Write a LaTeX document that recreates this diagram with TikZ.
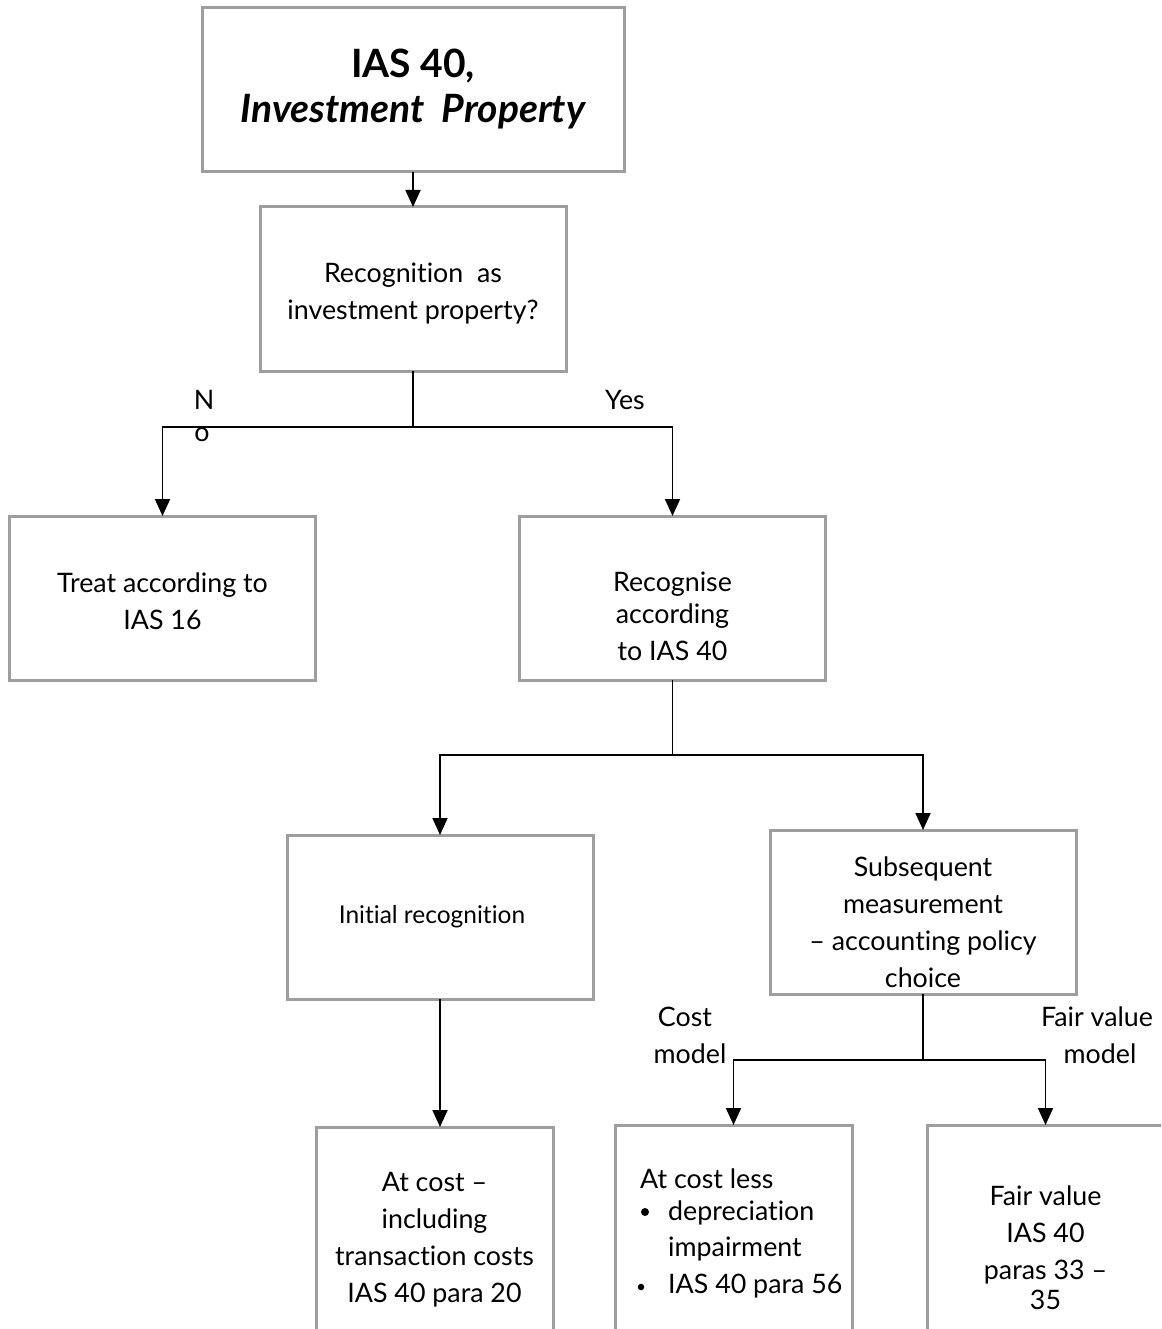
\documentclass[tikz,border=0pt]{standalone}
\usepackage{fontspec}
\setmainfont{Lato}[Ligatures={NoCommon,NoRare}]
\usetikzlibrary{arrows.meta}
\definecolor{boxgray}{RGB}{158,158,158}
\begin{document}
\begin{tikzpicture}[x=1pt,y=-1pt,
  box/.style={draw=boxgray,line width=3pt,inner sep=0pt,outer sep=0pt,
    minimum width=306pt,minimum height=164pt},
  txt/.style={align=center,inner sep=0pt,font=\fontsize{26.8pt}{37pt}\selectfont},
  lbl/.style={inner sep=0pt,font=\fontsize{26.8pt}{37pt}\selectfont},
  link/.style={line width=1.8pt,black},
  arr/.style={link,-{Triangle[width=15pt,length=17pt]}}]
\useasboundingbox (0,0) rectangle (1161,1329);
\fill[white] (0,0) rectangle (1161,1329);
\clip (0,0) rectangle (1161,1329);

% boxes
\node[box,minimum width=422pt] (ias) at (413,90) {};
\node[box] (recq) at (413,289) {};
\node[box] (ias16) at (162.5,598) {};
\node[box] (rec40) at (672.5,598) {};
\node[box] (init) at (440,917) {};
\node[box] (subs) at (923,912) {};
\node[box,minimum width=237pt,minimum height=233pt] (atcost) at (434.5,1243.5) {};
\node[box,minimum width=237pt,minimum height=233pt] (costless) at (733.5,1241.5) {};
\node[box,minimum width=237pt,minimum height=233pt] (fv) at (1045.5,1241.5) {};

% texts
\node[align=center,inner sep=0pt,font=\fontsize{39pt}{45pt}\selectfont\bfseries] (title) at (413,89)
  {IAS 40,\\\itshape Investment\ \ Property};
\node[txt] (recqt) at (413,293.5) {Recognition\ \ as\\investment property?};
\node[txt] (ias16t) at (162.5,601) {Treat according to\\IAS 16};
\node[txt] (rec40t) at (672.5,616) {Recognise\\[-5pt]according\\to IAS 40};
\node[txt,font=\fontsize{24.5pt}{37pt}\selectfont] (initt) at (432,917) {Initial recognition};
\node[txt] (subst) at (923,922) {Subsequent\\measurement\\– accounting policy\\choice};
\node[txt] (atcostt) at (434.5,1239.5) {At cost –\\including\\transaction costs\\IAS 40 para 20};
\node[txt] (fvt) at (1045.5,1248) {Fair value\\IAS 40\\paras 33 –\\[-7pt]35};

\node[lbl,anchor=west] (cl0) at (640,1179) {At cost less};
\node[lbl,anchor=west] (cl1) at (668,1213) {depreciation};
\node[lbl,anchor=west] (cl2) at (668,1249) {impairment};
\node[lbl,anchor=west] (cl3) at (668,1286) {IAS 40 para 56};
\node[circle,fill=black,inner sep=0pt,minimum size=8pt] (b1) at (645,1212) {};
\node[circle,fill=black,inner sep=0pt,minimum size=6.5pt] (b2) at (641,1287) {};

% branch labels
\node[lbl] (no1) at (204,400) {N};
\node[lbl] (no2) at (202,435) {o};
\node[lbl] (yes) at (625,400) {Yes};
\node[lbl] (costa) at (685,1017) {Cost};
\node[lbl] (costb) at (690,1054) {model};
\node[lbl] (fva) at (1097,1017) {Fair value};
\node[lbl] (fvb) at (1100,1054) {model};

% connectors
\draw[arr] (ias.south) -- (recq.north);
\draw[link] (recq.south) -- ++(0,56) coordinate (j1);
\draw[arr] (j1) -| (ias16.north);
\draw[arr] (j1) -| (rec40.north);
\draw[link] (rec40.south) -- ++(0,75) coordinate (j2);
\draw[arr] (j2) -| (init.north);
\draw[arr] (j2) -| (subs.north);
\draw[arr] (init.south) -- (init.south |- atcost.north);
\draw[link] (subs.south) -- ++(0,66) coordinate (j3);
\draw[arr] (j3) -| (costless.north);
\draw[arr] (j3) -| (fv.north);
\end{tikzpicture}
\end{document}
